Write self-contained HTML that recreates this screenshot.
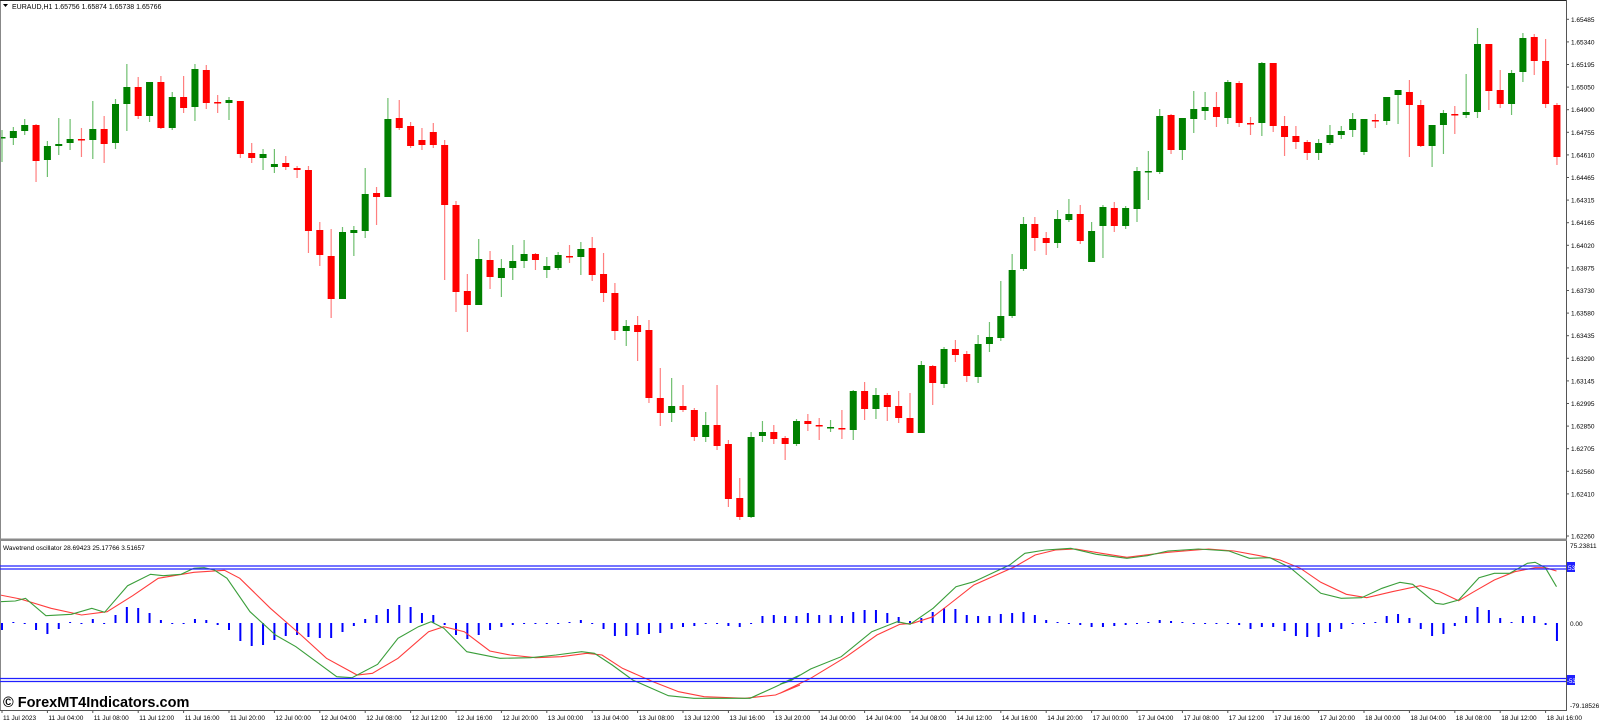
<!DOCTYPE html>
<html><head><meta charset="utf-8">
<style>
html,body{margin:0;padding:0;background:#fff;}
svg{display:block;}
text{font-family:"Liberation Sans",sans-serif;}
</style></head>
<body>
<svg id="s" width="1600" height="723" viewBox="0 0 1600 723" xmlns="http://www.w3.org/2000/svg">
<rect width="1600" height="723" fill="#fff"/>
<g id="g"></g>
<!-- frames -->
<line x1="0.5" y1="0" x2="0.5" y2="711" stroke="#888" stroke-width="1"/>
<line x1="0" y1="0.5" x2="1566" y2="0.5" stroke="#222" stroke-width="1"/>
<line x1="1566.5" y1="0" x2="1566.5" y2="711" stroke="#555" stroke-width="1"/>
<rect x="0" y="538.5" width="1567" height="2.5" fill="#8a8a8a"/>
<line x1="0" y1="710.5" x2="1567" y2="710.5" stroke="#555" stroke-width="1"/>
<!-- level lines -->
<line x1="0" y1="566" x2="1566" y2="566" stroke="#2020ff" stroke-width="1.2"/>
<line x1="0" y1="569" x2="1566" y2="569" stroke="#2020ff" stroke-width="1.2"/>
<line x1="0" y1="678.5" x2="1566" y2="678.5" stroke="#2020ff" stroke-width="1.2"/>
<line x1="0" y1="681.5" x2="1566" y2="681.5" stroke="#2020ff" stroke-width="1.2"/>
<!-- titles -->
<polygon points="3,4 8,4 5.5,7" fill="#000"/>
<text x="12" y="9" font-size="7" fill="#000">EURAUD,H1  1.65756 1.65874 1.65738 1.65766</text>
<text x="3" y="550" font-size="6.5" fill="#000">Wavetrend oscillator 28.69423 25.17766 3.51657</text>
<text x="3" y="707" font-size="14.5" font-weight="bold" fill="#000">© ForexMT4Indicators.com</text>
<!-- indicator axis -->
<text x="1570" y="548" font-size="6.5" fill="#000">75.23811</text>
<text x="1570" y="626" font-size="6.5" fill="#000">0.00</text>
<text x="1570" y="708" font-size="6.5" fill="#000">-79.18526</text>
<rect x="1567" y="562" width="8" height="10" fill="#2020ff"/>
<text x="1568" y="570" font-size="6.5" fill="#fff">53</text>
<rect x="1567" y="675" width="8" height="10" fill="#2020ff"/>
<text x="1567" y="683" font-size="6" fill="#fff">-53</text>
</svg>
<script>
var NS="http://www.w3.org/2000/svg",g=document.getElementById('g');
function el(n,a,t){var e=document.createElementNS(NS,n);for(var k in a)e.setAttribute(k,a[k]);if(t!==undefined)e.textContent=t;g.appendChild(e);return e;}
var C=[[138,137,130,162],[138,131,127,145],[131,125,119,135],[125,161,124,182],[160,146,141,177],[146,144,118,155],[143,139,119,150],[139,140,128,157],[140,129,101,159],[129,144,116,163],
[143,104,99,149],[104,87,64,131],[87,116,77,119],[116,82,82,122],[82,128,76,129],[128,97,92,130],[97,108,76,113],[107,69,64,121],[70,103,65,109],[102,103,95,113],
[103,100,97,120],[101,154,101,158],[153,158,143,163],[158,154,149,170],[167,164,149,173],[163,167,156,170],[168,170,166,178],[170,231,166,253],[230,255,222,266],[256,299,229,318],
[299,232,227,299],[233,230,226,256],[231,194,168,238],[193,197,187,225],[197,119,98,197],[118,128,100,130],[126,146,122,148],[140,145,128,150],[132,145,123,148],[145,205,140,280],
[205,292,201,312],[291,305,274,332],[305,259,239,305],[260,277,251,289],[278,268,259,297],[268,261,245,280],[261,254,240,268],[254,260,253,270],[270,266,257,278],[268,255,252,270],
[256,257,245,263],[257,249,242,275],[248,275,237,281],[274,293,253,302],[293,331,283,340],[331,326,320,346],[325,332,316,361],[330,398,320,403],[398,413,368,426],[413,406,378,422],
[406,410,385,412],[410,437,408,441],[437,425,412,442],[425,446,385,450],[444,499,440,507],[498,517,478,520],[517,437,432,518],[436,432,421,442],[432,439,425,444],[438,444,436,460],
[444,421,419,446],[421,424,414,431],[425,426,418,440],[428,427,420,432],[428,429,410,439],[430,391,390,440],[391,409,382,420],[409,395,388,419],[395,407,393,421],[406,418,391,423],
[418,433,393,433],[433,365,361,433],[366,383,365,405],[384,349,347,388],[349,355,340,362],[354,376,351,382],[377,344,335,383],[344,337,322,352],[338,316,281,341],[316,270,254,318],
[269,224,217,271],[224,238,217,251],[238,243,232,255],[243,219,210,248],[220,214,199,222],[214,241,205,244],[262,231,222,262],[226,207,205,258],[208,226,202,232],[226,208,206,229],
[209,171,167,222],[172,171,151,200],[172,116,109,174],[115,150,114,154],[150,118,118,160],[119,109,91,133],[111,107,92,120],[107,117,92,127],[118,82,80,124],[83,123,81,127],
[123,124,117,135],[123,63,62,136],[63,126,63,132],[126,137,116,156],[136,142,126,149],[142,153,140,160],[153,143,139,160],[143,135,125,145],[135,131,126,139],[130,119,113,137],
[152,119,119,155],[120,121,114,128],[121,97,97,125],[95,90,90,124],[92,105,80,157],[105,146,100,147],[146,125,125,167],[125,113,110,154],[114,115,106,134],[115,112,74,118],
[112,44,28,118],[44,91,44,110],[90,104,70,108],[104,73,70,115],[72,38,33,82],[37,61,34,75],[61,104,39,108],[105,157,103,165]];
function X(i){return 2+11.35*i;}
C.forEach(function(c,i){var x=X(i),up=c[1]<=c[0];
 el('line',{x1:x,y1:c[2],x2:x,y2:c[3],stroke:up?'#6fbf6f':'#ff7f7f','stroke-width':1.2});
 var t=Math.min(c[0],c[1]),h=Math.max(Math.abs(c[1]-c[0]),1.5);
 el('rect',{x:x-3.5,y:t,width:7,height:h,fill:up?'#008000':'#ff0000'});
});
// histogram
var H=[-7,1,0,-7,-11,-6,1,0,4,0,8,16,15,10,3,0,0,4,3,-2,-7,-18,-23,-22,-17,-13,-12,-14,-15,-15,-9,-3,4,8,14,18,16,10,8,-2,-12,-16,-12,-7,-4,-2,0,0,0,0,1,3,0,-6,-13,-13,-12,-11,-10,-6,-4,-3,0,0,-3,-4,0,7,8,7,7,
10,8,8,7,11,13,13,10,6,2,5,11,15,14,8,7,7,9,10,11,8,3,1,0,-2,-4,-4,-3,-2,0,1,3,2,1,0,0,-1,-1,-2,-6,-4,-4,-8,-13,-14,-14,-9,-6,0,0,1,7,9,5,-6,-13,-11,-3,7,16,13,5,1,7,7,-2,-18];
var Z=623;
H.forEach(function(v,i){var x=X(i);var h=Math.max(Math.abs(v),1);
 el('rect',{x:x-1,y:v>0?Z-h:Z,width:2,height:h,fill:'#0000ff'});});
function pts(a,ox){return a.map(function(p){return (ox+p[0]/1.96).toFixed(1)+','+(525+p[1]/3).toFixed(1);}).join(' ');}
var G1=[[0,230],[30,228],[50,220],[90,272],[140,268],[180,250],[205,262],[250,182],[295,148],[320,152],[355,148],[380,130],[400,128],[420,135],[445,160],[490,260],[540,330],[580,365],[620,410],[660,455],[690,458],[740,418],[780,340],[820,305],[845,290],[870,310],[915,380],[980,400],[1040,398],[1090,390],[1140,380],[1165,385],[1200,420],[1240,465],[1310,512],[1360,520],[1420,520],[1470,520],[1520,485],[1568,450]];
var R1=[[0,210],[40,222],[100,250],[160,270],[210,260],[260,212],[310,160],[380,142],[440,136],[470,160],[530,250],[590,330],[640,400],[700,450],[730,445],[780,400],[840,320],[870,305],[910,320],[960,378],[1000,390],[1050,398],[1100,395],[1150,385],[1180,390],[1220,430],[1280,470],[1330,500],[1380,515],[1460,520],[1520,510],[1568,480]];
var G2=[[0,478],[20,468],[60,432],[120,395],[180,320],[230,290],[255,298],[300,250],[345,185],[380,170],[450,120],[480,85],[520,75],[570,70],[620,88],[680,100],[720,92],[760,78],[820,72],[880,78],[920,100],[960,98],[1000,128],[1060,205],[1100,220],[1140,218],[1180,190],[1215,172],[1240,178],[1285,235],[1300,238],[1330,225],[1370,158],[1400,145],[1430,145],[1465,115],[1480,112],[1500,128],[1522,185]];
var R2=[[0,505],[60,460],[130,395],[190,330],[235,298],[260,295],[300,275],[330,240],[380,180],[460,125],[500,90],[540,75],[580,72],[630,85],[680,97],[760,82],[840,72],[890,78],[940,92],[980,105],[1020,130],[1060,172],[1110,208],[1150,218],[1200,200],[1255,182],[1290,198],[1330,227],[1360,200],[1400,165],[1440,140],[1480,128],[1500,128],[1522,138]];
var gp=pts(G1,0)+' '+pts(G2,780), rp=pts(R1,0)+' '+pts(R2,780);
el('polyline',{points:rp,fill:'none',stroke:'#ff3c3c','stroke-width':1.1});
el('polyline',{points:gp,fill:'none',stroke:'#3a9e3a','stroke-width':1.1});
// price axis
var P=["1.65485","1.65340","1.65195","1.65050","1.64900","1.64755","1.64610","1.64465","1.64315","1.64165","1.64020","1.63875","1.63730","1.63580","1.63435","1.63290","1.63145","1.62995","1.62850","1.62705","1.62560","1.62410","1.62260"];
P.forEach(function(p,k){var y=k<22?19.3+22.6*k:536;
 el('line',{x1:1566,y1:y,x2:1569,y2:y,stroke:'#555','stroke-width':1});
 el('text',{x:1571,y:y+2.5,'font-size':6.5,fill:'#000'},p);});
// time axis
var days=['11','12','13','14','17','18'],L=[];
for(var d=0;d<days.length;d++)for(var h=0;h<24;h+=4){L.push(days[d]+' Jul '+(h<10?'0':'')+h+':00');}
L[0]='11 Jul 2023';
for(var k=0;k<35;k++){var x=2+45.4*k;
 el('line',{x1:x,y1:710,x2:x,y2:713,stroke:'#555','stroke-width':1});
 el('text',{x:x+1,y:720,'font-size':6.5,fill:'#000'},L[k]);}
</script>
</body></html>
